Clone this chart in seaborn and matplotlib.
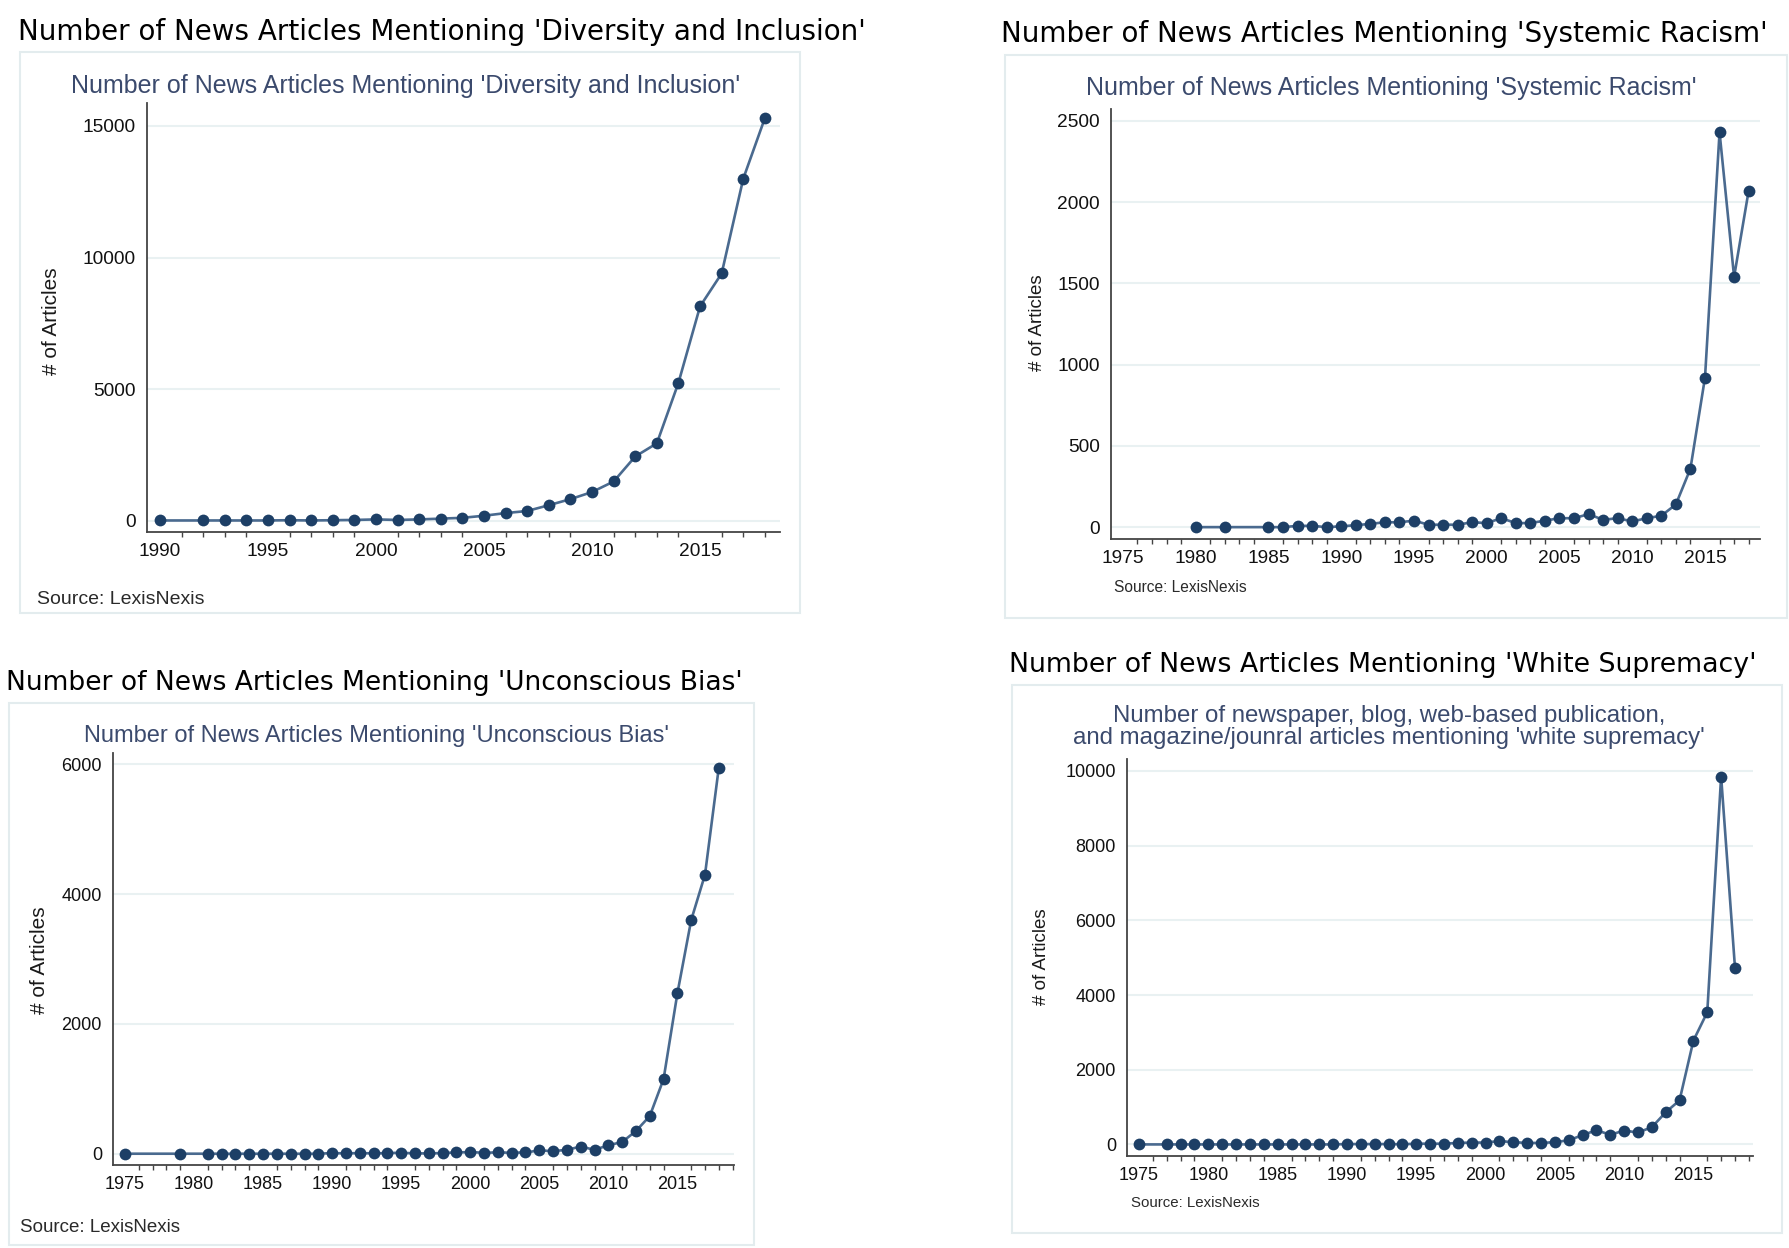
import matplotlib
matplotlib.use("Agg")
import matplotlib.pyplot as plt
import seaborn as sns
import numpy as np
from matplotlib.patches import Rectangle
from matplotlib.ticker import MultipleLocator

# ---- data ----
di_years = [1990, 1992, 1993, 1994, 1995, 1996, 1997, 1998, 1999, 2000, 2001, 2002, 2003, 2004,
            2005, 2006, 2007, 2008, 2009, 2010, 2011, 2012, 2013, 2014, 2015, 2016, 2017, 2018]
di_counts = [20, 20, 20, 20, 20, 30, 20, 30, 40, 60, 40, 60, 90, 120,
             200, 300, 380, 600, 830, 1100, 1500, 2450, 2950, 5250, 8150, 9400, 13000, 15300]

sr_years = [1980, 1982, 1985, 1986, 1987, 1988, 1989, 1990, 1991, 1992, 1993, 1994, 1995, 1996,
            1997, 1998, 1999, 2000, 2001, 2002, 2003, 2004, 2005, 2006, 2007, 2008, 2009, 2010,
            2011, 2012, 2013, 2014, 2015, 2016, 2017, 2018]
sr_counts = [0, 0, 0, 0, 8, 8, 0, 5, 12, 20, 30, 30, 40, 15,
             15, 15, 30, 25, 55, 25, 25, 40, 55, 55, 80, 45, 55, 35,
             55, 70, 140, 360, 920, 2430, 1540, 2070]

ub_years = [1975, 1979, 1981, 1982, 1983, 1984, 1985, 1986, 1987, 1988, 1989, 1990, 1991, 1992,
            1993, 1994, 1995, 1996, 1997, 1998, 1999, 2000, 2001, 2002, 2003, 2004, 2005, 2006,
            2007, 2008, 2009, 2010, 2011, 2012, 2013, 2014, 2015, 2016, 2017, 2018]
ub_counts = [0, 0, 0, 0, 0, 0, 0, 0, 0, 0, 0, 10, 5, 10,
             5, 10, 15, 5, 5, 10, 20, 25, 15, 20, 15, 20, 50, 40,
             60, 110, 60, 130, 180, 350, 580, 1150, 2470, 3600, 4300, 5950]

ws_years = [1975, 1977, 1978, 1979, 1980, 1981, 1982, 1983, 1984, 1985, 1986, 1987, 1988, 1989,
            1990, 1991, 1992, 1993, 1994, 1995, 1996, 1997, 1998, 1999, 2000, 2001, 2002, 2003,
            2004, 2005, 2006, 2007, 2008, 2009, 2010, 2011, 2012, 2013, 2014, 2015, 2016, 2017, 2018]
ws_counts = [0, 0, 0, 0, 0, 0, 0, 0, 0, 0, 0, 0, 0, 0,
             10, 10, 10, 10, 5, 20, 20, 20, 40, 50, 50, 90, 60, 40,
             40, 60, 110, 250, 380, 260, 370, 320, 460, 860, 1180, 2780, 3540, 9850, 4730]

outer_titles = ["Number of News Articles Mentioning 'Diversity and Inclusion'",
                "Number of News Articles Mentioning 'Systemic Racism'",
                "Number of News Articles Mentioning 'Unconscious Bias'",
                "Number of News Articles Mentioning 'White Supremacy'"]
inner_titles = ["Number of News Articles Mentioning 'Diversity and Inclusion'",
                "Number of News Articles Mentioning 'Systemic Racism'",
                "Number of News Articles Mentioning 'Unconscious Bias'",
                "Number of newspaper, blog, web-based publication,\nand magazine/jounral articles mentioning 'white supremacy'"]

LINE = "#4a6a8f"
MARK = "#1d3f66"
TITLE_C = "#3b4a6d"
GRID = "#e9f1f2"
FRAME = "#e3ecee"

sns.set_theme(style="white")
plt.rcParams['font.family'] = ['Liberation Sans', 'DejaVu Sans']

W, H = 1790, 1248
fig = plt.figure(figsize=(W / 100, H / 100), dpi=100)
fig.patch.set_facecolor("white")


def fx(px):
    return px / W


def fy(py):
    return 1 - py / H


def frame(x0, y0, x1, y1):
    fig.patches.append(Rectangle((fx(x0), fy(y1)), fx(x1) - fx(x0), fy(y0) - fy(y1),
                                 transform=fig.transFigure, fill=False,
                                 edgecolor=FRAME, lw=1.5, zorder=0))


def panel(box, years, counts, xlim, ylim, ystep, xfirst, lab_size):
    x0, y0, x1, y1 = box
    ax = fig.add_axes([fx(x0), fy(y1), fx(x1) - fx(x0), fy(y0) - fy(y1)])
    ax.set_facecolor("none")
    sns.lineplot(x=years, y=counts, ax=ax, color=LINE, lw=1.9, zorder=2)
    sns.scatterplot(x=years, y=counts, ax=ax, color=MARK, s=72, edgecolor=MARK,
                    linewidth=0, zorder=3)
    ax.set_xlim(*xlim)
    ax.set_ylim(*ylim)
    ax.xaxis.set_minor_locator(MultipleLocator(1))
    ax.yaxis.set_major_locator(MultipleLocator(ystep))
    ax.set_xticks([t for t in range(xfirst, 2016, 5)])
    ax.set_xlabel("")
    ax.set_ylabel("")
    for s in ["top", "right"]:
        ax.spines[s].set_visible(False)
    for s in ["left", "bottom"]:
        ax.spines[s].set_color("#444444")
        ax.spines[s].set_linewidth(1.3)
    ax.tick_params(axis="both", which="major", direction="out", length=5, width=1,
                   color="#444444", labelcolor="#111111", labelsize=lab_size, pad=3)
    ax.tick_params(axis="x", which="minor", direction="out", length=3.5, width=1,
                   color="#444444", bottom=True)
    ax.yaxis.grid(True, color=GRID, lw=1.5)
    ax.xaxis.grid(False)
    ax.set_axisbelow(True)
    return ax


# Diversity and Inclusion
frame(20, 52, 800, 613)
panel((147, 103, 780, 532), di_years, di_counts, (1989.4, 2018.7), (-418, 15873), 5000, 1990, 13.8)
fig.text(fx(18), fy(32), outer_titles[0], family="DejaVu Sans", fontsize=20, va="center", color="black")
fig.text(fx(406), fy(86), inner_titles[0], fontsize=18, ha="center", va="center", color=TITLE_C)
fig.text(fx(52), fy(321), "# of Articles", fontsize=15, rotation=90, ha="center", va="center", color="#1a1a1a")
fig.text(fx(37), fy(599), "Source: LexisNexis", fontsize=14, va="center", color="#2a2a2a")

# Systemic Racism
frame(1005, 55, 1787, 618)
panel((1111, 109, 1760, 539), sr_years, sr_counts, (1974.18, 2018.78), (-73, 2573), 500, 1975, 13.8)
fig.text(fx(1001), fy(34), outer_titles[1], family="DejaVu Sans", fontsize=20, va="center", color="black")
fig.text(fx(1391), fy(88), inner_titles[1], fontsize=18, ha="center", va="center", color=TITLE_C)
fig.text(fx(1038), fy(323), "# of Articles", fontsize=13.5, rotation=90, ha="center", va="center", color="#1a1a1a")
fig.text(fx(1114), fy(587), "Source: LexisNexis", fontsize=11.2, va="center", color="#2a2a2a")

# Unconscious Bias
frame(9, 703, 754, 1245)
panel((113, 753, 734, 1165), ub_years, ub_counts, (1974.13, 2019.1), (-174, 6174), 2000, 1975, 13)
fig.text(fx(6), fy(683), outer_titles[2], family="DejaVu Sans", fontsize=19.1, va="center", color="black")
fig.text(fx(377), fy(736), inner_titles[2], fontsize=17, ha="center", va="center", color=TITLE_C)
fig.text(fx(40), fy(960), "# of Articles", fontsize=15, rotation=90, ha="center", va="center", color="#1a1a1a")
fig.text(fx(20), fy(1228), "Source: LexisNexis", fontsize=13.5, va="center", color="#2a2a2a")

# White Supremacy
frame(1012, 685, 1782, 1233)
panel((1127, 759, 1753, 1156), ws_years, ws_counts, (1974.13, 2019.3), (-310, 10320), 2000, 1975, 13)
fig.text(fx(1009), fy(665), outer_titles[3], family="DejaVu Sans", fontsize=19.3, va="center", color="black")
fig.text(fx(1389), fy(727), inner_titles[3], fontsize=17.3, ha="center", va="center", color=TITLE_C,
         linespacing=1.05)
fig.text(fx(1042), fy(957), "# of Articles", fontsize=13.5, rotation=90, ha="center", va="center", color="#1a1a1a")
fig.text(fx(1131), fy(1203), "Source: LexisNexis", fontsize=10.8, va="center", color="#2a2a2a")

fig.savefig("out.png", dpi=100)
